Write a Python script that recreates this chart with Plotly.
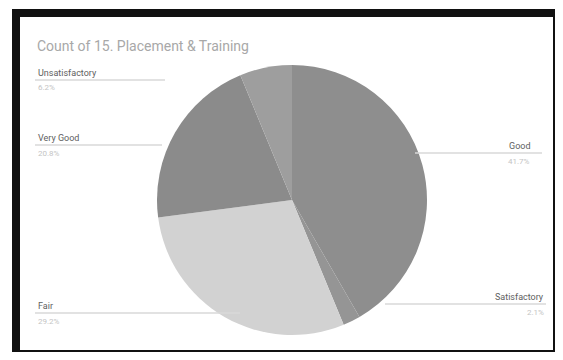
import plotly.graph_objects as go

# Browser body has an 8px margin; the figure is sized so the page fits the 563x360 window
OFF = 8
W, H = 563 - 2 * OFF, 360 - 2 * OFF

# Data (clockwise from 12 o'clock)
labels = ["Good", "Satisfactory", "Fair", "Very Good", "Unsatisfactory"]
counts = [20, 1, 14, 10, 3]
colors = ["#8e8e8e", "#959595", "#d2d2d2", "#8b8b8b", "#9e9e9e"]
title_text = "Count of 15. Placement & Training"

total = sum(counts)
pcts = {l: f"{100 * c / total:.1f}%" for l, c in zip(labels, counts)}


def px(x):
    return (x - OFF) / W


def py(y):
    return 1 - (y - OFF) / H


# pie occupies a 270x270 square centred at (292, 200) in window pixels
cx, cy, r = 292, 200, 135

fig = go.Figure(go.Pie(
    labels=labels,
    values=counts,
    sort=False,
    direction="clockwise",
    rotation=0,
    marker=dict(colors=colors, line=dict(width=0)),
    textinfo="none",
    hoverinfo="label+value+percent",
    showlegend=False,
    domain=dict(x=[px(cx - r), px(cx + r)], y=[py(cy + r), py(cy - r)]),
))

shapes = []
annotations = []

# outer photo frame
shapes.append(dict(type="rect", xref="paper", yref="paper",
                   x0=px(16), x1=px(557), y0=py(354), y1=py(13),
                   line=dict(color="#111111", width=8), layer="above"))

# label positions (layout): name -> (text x, text y, line x0, line x1, line y, align)
label_layout = {
    "Unsatisfactory": (36, 73, 35, 165, 80, "left"),
    "Very Good": (36, 138, 35, 162, 145, "left"),
    "Fair": (36, 306, 35, 240, 313, "left"),
    "Good": (532, 146, 415, 542, 153, "right"),
    "Satisfactory": (546, 297, 385, 546, 304, "right"),
}

for name, (tx, ty, lx0, lx1, ly, al) in label_layout.items():
    shapes.append(dict(type="line", xref="paper", yref="paper",
                       x0=px(lx0), x1=px(lx1), y0=py(ly), y1=py(ly),
                       line=dict(color="#d8d8d8", width=1.5)))
    xa = "left" if al == "left" else "right"
    annotations.append(dict(x=px(tx), y=py(ty), xref="paper", yref="paper",
                            text=name, showarrow=False, xanchor=xa, yanchor="middle",
                            font=dict(family="Roboto, Arial", size=9, color="#5e5e5e")))
    annotations.append(dict(x=px(tx), y=py(ly + 8), xref="paper", yref="paper",
                            text=pcts[name], showarrow=False, xanchor=xa, yanchor="middle",
                            font=dict(family="Roboto, Arial", size=8, color="#c4c4c4")))

annotations.append(dict(x=px(35), y=py(46), xref="paper", yref="paper",
                        text=title_text, showarrow=False, xanchor="left", yanchor="middle",
                        font=dict(family="Roboto, Arial", size=14, color="#a8a8a8")))

fig.update_layout(
    width=W, height=H,
    margin=dict(l=0, r=0, t=0, b=0),
    paper_bgcolor="#ffffff",
    plot_bgcolor="#ffffff",
    shapes=shapes,
    annotations=annotations,
)

fig.write_html("out.html")
